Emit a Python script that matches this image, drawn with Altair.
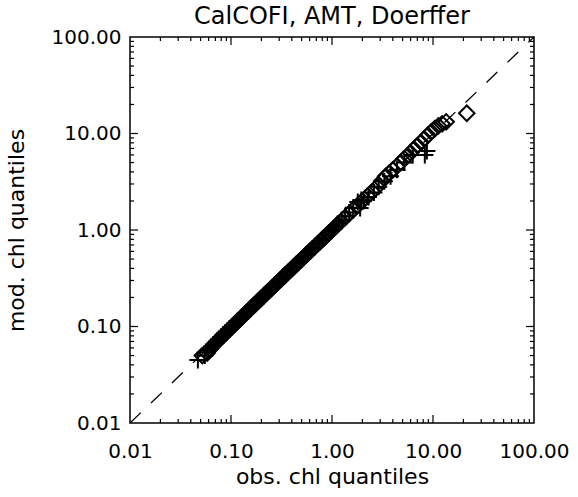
import altair as alt
import pandas as pd

# ---- data ----
plus_obs = [0.047, 0.055, 0.058, 0.061, 0.064, 0.067, 0.070, 0.073, 0.076, 0.080,
            0.084, 0.088, 0.092, 0.096, 0.100, 0.105, 0.110, 0.116, 0.122, 0.128,
            0.134, 0.141, 0.148, 0.156, 0.164, 0.172, 0.181, 0.190, 0.200, 0.210,
            0.221, 0.232, 0.244, 0.256, 0.270, 0.284, 0.298, 0.314, 0.330, 0.347,
            0.365, 0.384, 0.404, 0.425, 0.447, 0.470, 0.495, 0.52, 0.55, 0.58,
            0.61, 0.64, 0.67, 0.71, 0.75, 0.79, 0.83, 0.88, 0.93, 0.98,
            1.04, 1.10, 1.17, 1.25, 1.35, 1.48, 1.62, 1.80, 1.90, 1.95,
            2.05, 2.3, 2.6, 2.9, 3.3, 3.8, 4.4, 5.2, 6.3, 8.3, 8.7]
plus_mod = [0.045, 0.050, 0.054, 0.058, 0.062, 0.065, 0.068, 0.071, 0.074, 0.078,
            0.082, 0.086, 0.090, 0.094, 0.098, 0.103, 0.108, 0.114, 0.119, 0.125,
            0.131, 0.138, 0.145, 0.153, 0.161, 0.169, 0.178, 0.187, 0.197, 0.207,
            0.218, 0.229, 0.241, 0.253, 0.267, 0.281, 0.295, 0.311, 0.327, 0.344,
            0.362, 0.381, 0.401, 0.422, 0.444, 0.467, 0.492, 0.517, 0.547, 0.577,
            0.607, 0.637, 0.667, 0.707, 0.747, 0.787, 0.827, 0.877, 0.927, 0.977,
            1.037, 1.10, 1.17, 1.25, 1.38, 1.52, 1.70, 1.95, 1.69, 2.05,
            2.00, 2.20, 2.45, 2.80, 3.20, 3.60, 4.20, 5.00, 6.00, 6.0, 6.6]

diam_obs = [0.052, 0.058, 0.062, 0.066, 0.071, 0.076, 0.081, 0.086, 0.091, 0.097,
            0.103, 0.109, 0.116, 0.123, 0.131, 0.139, 0.148, 0.157, 0.167, 0.177,
            0.188, 0.200, 0.213, 0.226, 0.240, 0.255, 0.271, 0.288, 0.306, 0.325,
            0.345, 0.367, 0.390, 0.414, 0.440, 0.468, 0.497, 0.53, 0.56, 0.60,
            0.64, 0.68, 0.72, 0.77, 0.82, 0.87, 0.93, 0.99, 1.06, 1.14,
            1.23, 1.34, 1.47, 1.62, 1.80, 2.0, 2.25, 2.5, 2.8, 3.1,
            3.4, 3.7, 4.0, 4.4, 4.8, 5.2, 5.6, 6.0, 6.5, 7.0,
            7.6, 8.2, 8.9, 9.6, 10.4, 11.3, 12.3, 13.5, 21.6]
diam_mod = [0.050, 0.053, 0.058, 0.063, 0.068, 0.073, 0.078, 0.083, 0.088, 0.094,
            0.100, 0.106, 0.113, 0.120, 0.128, 0.136, 0.145, 0.154, 0.164, 0.174,
            0.185, 0.197, 0.210, 0.223, 0.237, 0.252, 0.268, 0.285, 0.303, 0.322,
            0.342, 0.364, 0.387, 0.411, 0.437, 0.465, 0.494, 0.527, 0.557, 0.597,
            0.637, 0.677, 0.717, 0.767, 0.817, 0.867, 0.927, 0.987, 1.06, 1.14,
            1.23, 1.34, 1.47, 1.62, 1.80, 2.0, 2.25, 2.5, 2.8, 3.2,
            3.6, 3.9, 4.2, 4.6, 5.0, 5.5, 5.9, 6.3, 6.9, 7.5,
            8.1, 8.8, 9.6, 10.4, 11.2, 12.0, 12.6, 13.2, 16.2]

major_ticks = [0.01, 0.1, 1, 10, 100]
inner_major = [0.1, 1, 10]
minor_ticks = [2e-2, 3e-2, 4e-2, 5e-2, 6e-2, 7e-2, 8e-2, 9e-2,
               0.2, 0.3, 0.4, 0.5, 0.6, 0.7, 0.8, 0.9,
               2, 3, 4, 5, 6, 7, 8, 9,
               20, 30, 40, 50, 60, 70, 80, 90]
one_to_one = [0.01, 100]

W, H = 404, 386
FONT = "DejaVu Sans"

dom = [0.01, 100]
xs = alt.Scale(type="log", domain=dom, nice=False)
ys = alt.Scale(type="log", domain=dom, nice=False)

plus_df = pd.DataFrame({"obs": plus_obs, "mod": plus_mod})
diam_df = pd.DataFrame({"obs": diam_obs, "mod": diam_mod})
line_df = pd.DataFrame({"obs": one_to_one, "mod": one_to_one})

xaxis = alt.Axis(values=major_ticks, format=".2f", ticks=False, domain=False, grid=False,
                 labelFont=FONT, labelFontSize=20, labelColor="black", labelPadding=18,
                 labelFlush=False, labelOverlap=False,
                 title="obs. chl quantiles", titleFont=FONT, titleFontSize=22,
                 titleFontWeight="normal", titleColor="black", titlePadding=5)
yaxis = alt.Axis(values=major_ticks, format=".2f", ticks=False, domain=False, grid=False,
                 labelFont=FONT, labelFontSize=20, labelColor="black", labelPadding=9,
                 labelFlush=False, labelOverlap=False,
                 title="mod. chl quantiles", titleFont=FONT, titleFontSize=22,
                 titleFontWeight="normal", titleColor="black", titlePadding=23)

base_line = alt.Chart(line_df).mark_line(
    color="black", strokeWidth=1.3, strokeDash=[15, 14]
).encode(
    x=alt.X("obs:Q", scale=xs, axis=xaxis),
    y=alt.Y("mod:Q", scale=ys, axis=yaxis),
)

plus_layer = alt.Chart(plus_df).mark_point(
    shape="M-1,0L1,0M0,-1L0,1", filled=False, color="black", strokeWidth=2,
    size=289, opacity=1
).encode(x=alt.X("obs:Q", scale=xs), y=alt.Y("mod:Q", scale=ys))

diam_layer = alt.Chart(diam_df).mark_point(
    shape="diamond", filled=False, color="black", strokeWidth=2, size=240, opacity=1
).encode(x=alt.X("obs:Q", scale=xs), y=alt.Y("mod:Q", scale=ys))

tick_layers = []
for vals, ln in [(inner_major, 8), (minor_ticks, 4)]:
    tdf = pd.DataFrame({"v": vals})
    tick_layers.append(alt.Chart(tdf).mark_tick(
        color="black", thickness=1.2, size=ln, orient="vertical", opacity=1
    ).encode(x=alt.X("v:Q", scale=xs), y=alt.value(H - ln / 2)))
    tick_layers.append(alt.Chart(tdf).mark_tick(
        color="black", thickness=1.2, size=ln, orient="vertical", opacity=1
    ).encode(x=alt.X("v:Q", scale=xs), y=alt.value(ln / 2)))
    tick_layers.append(alt.Chart(tdf).mark_tick(
        color="black", thickness=1.2, size=ln, orient="horizontal", opacity=1
    ).encode(y=alt.Y("v:Q", scale=ys), x=alt.value(ln / 2)))
    tick_layers.append(alt.Chart(tdf).mark_tick(
        color="black", thickness=1.2, size=ln, orient="horizontal", opacity=1
    ).encode(y=alt.Y("v:Q", scale=ys), x=alt.value(W - ln / 2)))

chart = alt.layer(base_line, plus_layer, diam_layer, *tick_layers).properties(
    width=W, height=H,
    title=alt.TitleParams("CalCOFI, AMT, Doerffer", font=FONT, fontSize=24,
                          fontWeight="normal", color="black", anchor="middle", offset=-2),
    autosize=alt.AutoSizeParams(type="none"),
    padding={"left": 130, "top": 37, "right": 44, "bottom": 74},
).configure(
    background="white"
).configure_view(
    stroke="black", strokeWidth=1.5
)

chart.save("out.html", embed_options={"renderer": "svg", "actions": False})
